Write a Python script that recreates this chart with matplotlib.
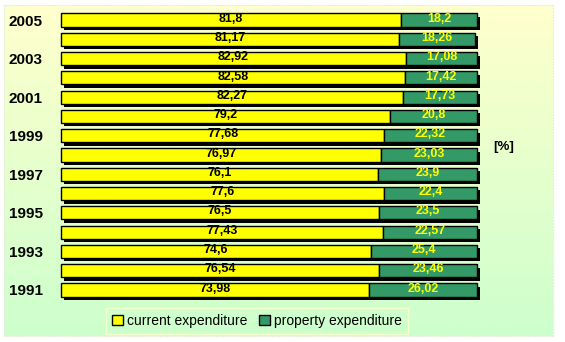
import numpy as np
import matplotlib.pyplot as plt
import matplotlib.patheffects as pe
from matplotlib.colors import LinearSegmentedColormap
from matplotlib.patches import Patch

years = [1991, 1992, 1993, 1994, 1995, 1996, 1997, 1998, 1999, 2000, 2001, 2002, 2003, 2004, 2005]
current = [73.98, 76.54, 74.6, 77.43, 76.5, 77.6, 76.1, 76.97, 77.68, 79.2, 82.27, 82.58, 82.92, 81.17, 81.8]
property_ = [26.02, 23.46, 25.4, 22.57, 23.5, 22.4, 23.9, 23.03, 22.32, 20.8, 17.73, 17.42, 17.08, 18.26, 18.2]

W, H = 565, 342
fig = plt.figure(figsize=(W / 100, H / 100), dpi=100)
fig.patch.set_facecolor('white')

# gradient background panel
bg = fig.add_axes([4 / W, 6 / H, 549 / W, 331 / H])
grad = np.linspace(0, 1, 256).reshape(-1, 1)
cmap = LinearSegmentedColormap.from_list('bg', ['#ccffcc', '#ffffcc'])
bg.imshow(grad, aspect='auto', cmap=cmap, origin='lower', extent=[0, 1, 0, 1])
bg.set_xticks([])
bg.set_yticks([])
for s in bg.spines.values():
    s.set_color('#e6f0d8')
    s.set_linestyle(':')
    s.set_linewidth(0.8)

ax = fig.add_axes([61 / W, (H - 299.6) / H, 416 / W, 289.2 / H])
ax.patch.set_alpha(0)
y = np.arange(len(years))
shadow = [pe.SimplePatchShadow(offset=(2.5, -2.5), shadow_rgbFace='black', alpha=1), pe.Normal()]

b1 = ax.barh(y, current, height=0.68, color='#ffff00', edgecolor='black', linewidth=1.0)
b2 = ax.barh(y, property_, left=current, height=0.68, color='#339966', edgecolor='black', linewidth=1.0)
for bar in list(b1) + list(b2):
    bar.set_path_effects(shadow)
    bar.set_clip_on(False)

for i in range(len(years)):
    ax.text(current[i] / 2, y[i] + 0.07, f"{current[i]:g}".replace('.', ','),
            ha='center', va='center', fontsize=9, fontweight='bold', color='black',
            family='Liberation Sans')
    ax.text(current[i] + property_[i] / 2, y[i] + 0.07, f"{property_[i]:g}".replace('.', ','),
            ha='center', va='center', fontsize=9, fontweight='bold', color='#ffff00',
            family='Liberation Sans')

ax.set_xlim(0, 100)
ax.set_ylim(-0.5, len(years) - 0.5)
ax.set_xticks([])
ax.set_yticks(y[::2])
ax.set_yticklabels([str(v) for v in years[::2]], fontsize=11, fontweight='bold',
                   family='Liberation Sans')
ax.tick_params(axis='y', length=0, pad=13)
for s in ax.spines.values():
    s.set_visible(False)

fig.text(504 / W, 1 - 147 / H, '[%]', ha='center', va='center', fontsize=9.5,
         fontweight='bold', family='Liberation Sans')

handles = [Patch(facecolor='#ffff00', edgecolor='black', label='current expenditure'),
           Patch(facecolor='#339966', edgecolor='black', label='property expenditure')]
leg = fig.legend(handles=handles, loc='center', bbox_to_anchor=(257 / W, 1 - 321 / H), ncol=2,
                 frameon=True, fancybox=False, handlelength=0.8, handleheight=0.8,
                 handletextpad=0.3, columnspacing=0.8, borderpad=0.4,
                 prop={'family': 'Liberation Sans', 'size': 10})
leg.get_frame().set_edgecolor('#ffffcc')
leg.get_frame().set_facecolor('none')
leg.get_frame().set_linewidth(1.0)

fig.savefig('out.png', dpi=100, facecolor='white')
